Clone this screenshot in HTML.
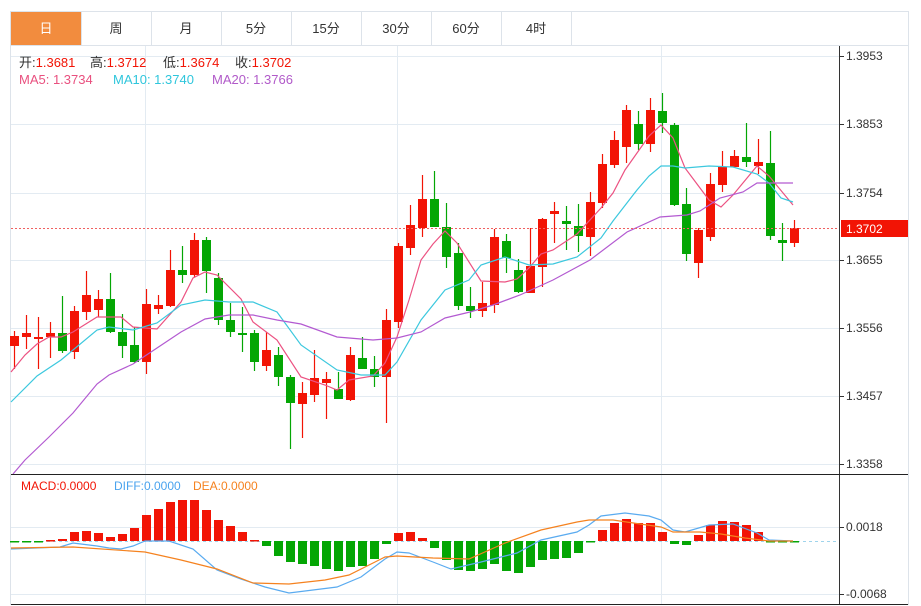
<!DOCTYPE html>
<html><head><meta charset="utf-8"><style>
html,body{margin:0;padding:0;background:#fff;width:921px;height:606px;overflow:hidden}
svg{position:absolute;left:0;top:0}
text{font-family:"Liberation Sans","Noto Sans CJK SC",sans-serif}
</style></head><body>
<svg id="s" width="921" height="606" xmlns="http://www.w3.org/2000/svg">
<rect x="10.5" y="11.5" width="898" height="593" fill="#fff" stroke="#dde3ea"/>
<rect x="11" y="12" width="70" height="33" fill="#f28c3e"/>
<g stroke="#dde3ea"><line x1="11" y1="45.5" x2="908" y2="45.5"/>
<line x1="81.5" y1="12" x2="81.5" y2="45"/><line x1="151.5" y1="12" x2="151.5" y2="45"/><line x1="221.5" y1="12" x2="221.5" y2="45"/><line x1="291.5" y1="12" x2="291.5" y2="45"/><line x1="361.5" y1="12" x2="361.5" y2="45"/><line x1="431.5" y1="12" x2="431.5" y2="45"/><line x1="501.5" y1="12" x2="501.5" y2="45"/><line x1="571.5" y1="12" x2="571.5" y2="45"/></g>
<g font-size="13" text-anchor="middle" fill="#333">
<text x="46" y="33" fill="#fff">日</text><text x="116" y="33">周</text><text x="186" y="33">月</text><text x="256" y="33">5分</text><text x="326" y="33">15分</text><text x="396" y="33">30分</text><text x="466" y="33">60分</text><text x="536" y="33">4时</text></g>
<g id="grid" stroke="#e3ebf2" stroke-width="1"></g>
<g id="g"></g>
<line x1="839.5" y1="46" x2="839.5" y2="604" stroke="#333"/>
<line x1="11" y1="474.5" x2="908" y2="474.5" stroke="#222"/>
<line x1="11" y1="604.5" x2="908" y2="604.5" stroke="#222"/>
<rect x="841" y="220" width="67" height="17" fill="#f21405"/>
<text x="846" y="233" font-size="12" fill="#fff">1.3702</text>
<g font-size="13">
<text x="19" y="67" fill="#333">开:<tspan fill="#f21405">1.3681</tspan></text>
<text x="90" y="67" fill="#333">高:<tspan fill="#f21405">1.3712</tspan></text>
<text x="163" y="67" fill="#333">低:<tspan fill="#f21405">1.3674</tspan></text>
<text x="235" y="67" fill="#333">收:<tspan fill="#f21405">1.3702</tspan></text>
<text x="19" y="84" fill="#e9507f">MA5: 1.3734</text>
<text x="113" y="84" fill="#2fc6dc">MA10: 1.3740</text>
<text x="212" y="84" fill="#b15ac9">MA20: 1.3766</text>
</g>
<g font-size="12">
<text x="21" y="490" fill="#f21405">MACD:0.0000</text>
<text x="114" y="490" fill="#4aa3ee">DIFF:0.0000</text>
<text x="193" y="490" fill="#f5821f">DEA:0.0000</text>
</g>
</svg>
<script>
var NS="http://www.w3.org/2000/svg",g=document.getElementById('g'),gr=document.getElementById('grid');
function el(t,a,p){var e=document.createElementNS(NS,t);for(var k in a)e.setAttribute(k,a[k]);(p||g).appendChild(e);return e;}
[56,124,193,260,328,396,464,527,594].forEach(function(y){el('line',{x1:11,y1:y+.5,x2:839,y2:y+.5},gr);el('line',{x1:839,y1:y+.5,x2:844,y2:y+.5,stroke:'#333'},gr);});
[145,397,661].forEach(function(x){el('line',{x1:x+.5,y1:46,x2:x+.5,y2:604},gr);});
var labs=[[56,'1.3953'],[124,'1.3853'],[193,'1.3754'],[260,'1.3655'],[328,'1.3556'],[396,'1.3457'],[464,'1.3358'],[527,'0.0018'],[594,'-0.0068']];
labs.forEach(function(l){var t=el('text',{x:846,y:l[0]+4,'font-size':12,fill:'#333'});t.textContent=l[1];});
var R='#f21405',G='#04a604';
var C=[['R',331,336,346,369],['R',315,333,337,349],['R',317,337,338,369],['R',322,333,337,358],['G',296,333,351,353],['R',306,311,352,359],['R',271,295,312,320],['R',290,299,310,317],['G',273,299,332,333],['G',314,332,346,358],['G',327,345,362,363],['R',289,304,362,374],['R',295,305,309,314],['R',250,270,306,307],['G',246,270,275,283],['R',233,240,275,277],['G',237,240,271,293],['G',273,278,320,325],['G',303,320,332,337],['G',307,333,334,352],['G',330,333,362,371],['R',332,350,366,371],['G',347,355,377,386],['G',375,377,403,449],['R',382,393,404,438],['R',350,378,395,402],['R',372,379,383,419],['G',372,389,399,399],['R',347,355,400,401],['G',337,358,369,369],['G',356,369,377,387],['R',309,320,377,423],['R',243,246,322,328],['R',205,225,248,255],['R',175,199,228,237],['G',171,199,227,227],['G',203,227,257,268],['G',243,253,306,310],['G',287,306,311,318],['R',282,303,311,317],['R',229,237,305,313],['G',234,241,258,273],['G',259,270,292,293],['R',228,266,293,293],['R',218,219,267,287],['R',202,211,214,243],['G',206,221,224,250],['G',204,226,236,252],['R',192,202,237,256],['R',154,164,203,208],['R',131,140,165,168],['R',105,110,147,163],['G',111,124,144,150],['R',98,110,144,152],['G',93,111,123,133],['G',123,125,205,206],['G',188,204,254,261],['R',228,230,263,278],['R',173,184,237,241],['R',151,167,185,192],['R',150,156,167,167],['G',123,157,162,167],['R',139,162,166,174],['G',131,163,236,240],['G',223,240,243,261],['R',220,228,243,247]];
C.forEach(function(c,i){var x=14+12*i,col=c[0]=='R'?R:G;
el('line',{x1:x+.5,y1:c[1],x2:x+.5,y2:c[4],stroke:col,'stroke-width':1.2});
el('rect',{x:x-4,y:c[2],width:9,height:Math.max(2,c[3]-c[2]),fill:col});});
function pl(pts,col){el('polyline',{points:pts.map(function(p){return p.join(',')}).join(' '),fill:'none',stroke:col,'stroke-width':1.2});}
pl([[11,372],[25,355],[37,344],[49,337],[61,337],[73,332],[97,317],[121,317],[133,327],[157,329],[181,302],[193,278],[205,272],[217,275],[241,299],[253,322],[277,340],[301,377],[325,385],[337,390],[349,380],[373,376],[385,363],[397,337],[409,300],[421,260],[433,244],[445,231],[457,243],[481,281],[505,282],[517,279],[529,268],[541,254],[553,250],[577,234],[601,208],[613,193],[625,170],[649,136],[661,125],[673,138],[685,168],[709,200],[721,207],[733,195],[757,166],[769,176],[793,205]],'#ec5282');
pl([[11,402],[37,376],[61,360],[97,330],[109,327],[133,330],[157,323],[181,305],[205,300],[229,302],[253,302],[277,312],[301,345],[337,370],[361,375],[385,375],[397,362],[421,320],[445,290],[469,280],[481,265],[505,257],[529,265],[553,264],[577,257],[601,238],[613,221],[637,190],[649,176],[661,166],[673,166],[685,168],[709,166],[733,167],[757,174],[769,183],[781,198],[793,202]],'#3cc8de');
pl([[13,474],[25,460],[49,437],[73,413],[97,384],[109,375],[133,364],[157,348],[181,332],[205,319],[229,315],[253,315],[277,320],[301,324],[337,337],[373,340],[397,338],[421,332],[445,318],[470,312],[493,305],[520,295],[553,280],[590,260],[627,232],[660,217],[687,215],[700,211],[720,198],[743,192],[757,183],[793,183]],'#b35ad1');
el('line',{x1:11,y1:228.5,x2:839,y2:228.5,stroke:'#f06060','stroke-dasharray':'2,2'});
el('line',{x1:11,y1:541.5,x2:839,y2:541.5,stroke:'#9fd4ec','stroke-dasharray':'3,3'});
var H=[541,542,542,540,539,532,531,533,537,534,528,515,509,502,500,500,510,520,526,532,540,546,556,562,564,566,569,571,567,566,559,544,533,532,538,548,560,570,571,569,564,571,573,567,560,559,558,553,542,530,523,519,523,523,532,544,545,535,525,521,522,525,532,542,542,541];
H.forEach(function(y,i){var x=14+12*i,z=541,col=y<z?R:G;var t=Math.min(y,z),h=Math.max(1.5,Math.abs(y-z));el('rect',{x:x-4,y:t,width:9,height:h,fill:col});});
pl([[11,549],[60,547],[73,543],[97,546],[109,548],[121,549],[133,546],[145,541],[169,541],[193,549],[217,570],[241,579],[265,587],[289,593],[313,590],[337,587],[361,577],[385,559],[397,552],[409,553],[433,562],[451,569],[481,562],[505,556],[517,553],[541,540],[577,532],[589,525],[601,516],[625,513],[649,516],[661,520],[673,530],[685,532],[709,525],[733,524],[757,533],[769,540],[793,541]],'#5aabf0');
pl([[11,548],[73,547],[145,552],[181,560],[217,569],[253,583],[289,584],[325,580],[349,575],[385,557],[397,556],[433,558],[469,559],[505,543],[541,530],[577,522],[589,520],[613,520],[661,527],[673,532],[700,532],[721,534],[745,538],[769,541],[793,541]],'#f5821f');
</script>
</body></html>
